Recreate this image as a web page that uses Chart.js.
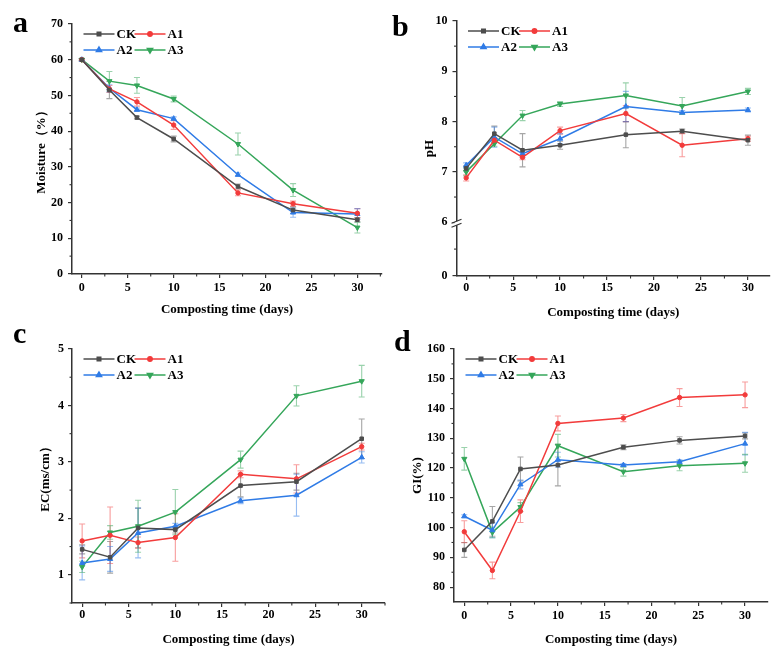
<!DOCTYPE html>
<html><head><meta charset="utf-8">
<script src="https://cdn.jsdelivr.net/npm/chart.js@4/dist/chart.umd.min.js"></script>
<style>
body{margin:0;background:#fff;width:775px;height:655px;position:relative;overflow:hidden}
.p{position:absolute}
.lt{position:absolute;font:bold 30px "Liberation Serif";line-height:30px;color:#000}
</style></head><body>
<canvas id="ca" class="p" style="left:0;top:0" width="390" height="320"></canvas>
<canvas id="cb" class="p" style="left:385px;top:0" width="390" height="320"></canvas>
<canvas id="cc" class="p" style="left:0;top:320px" width="390" height="335"></canvas>
<canvas id="cd" class="p" style="left:385px;top:320px" width="390" height="335"></canvas>
<div class="lt" style="left:13px;top:7px">a</div>
<div class="lt" style="left:392px;top:11px">b</div>
<div class="lt" style="left:13px;top:318px">c</div>
<div class="lt" style="left:394px;top:326px">d</div>
<script>
// ---- data ----
const days = [0, 3, 6, 10, 17, 23, 30];
const seriesNames = ['CK', 'A1', 'A2', 'A3'];
const xTicks = [0, 5, 10, 15, 20, 25, 30];

const moistureCK = [60, 51.5, 43.8, 37.8, 24.5, 17.9, 15.2];
const moistureA1 = [60, 51.8, 48.2, 41.7, 22.7, 19.7, 17.0];
const moistureA2 = [60, 52.0, 46.0, 43.5, 27.8, 17.2, 16.8];
const moistureA3 = [60, 54.0, 52.8, 49.0, 36.4, 23.5, 13.0];
const moistureErrCK = [0.3, 2.4, 0.4, 0.8, 0.7, 0.9, 0.6];
const moistureErrA1 = [0.3, 1.0, 1.2, 1.2, 0.8, 0.7, 1.3];
const moistureErrA2 = [0.3, 1.0, 0.5, 0.5, 0.5, 1.3, 1.5];
const moistureErrA3 = [0.3, 2.7, 2.2, 0.8, 3.1, 1.8, 1.5];
const moistureTicks = [0, 10, 20, 30, 40, 50, 60, 70];

const phCK = [7.07, 7.76, 7.43, 7.53, 7.74, 7.81, 7.63];
const phA1 = [6.88, 7.63, 7.29, 7.82, 8.16, 7.53, 7.66];
const phA2 = [7.13, 7.69, 7.36, 7.66, 8.30, 8.18, 8.23];
const phA3 = [7.00, 7.56, 8.12, 8.35, 8.52, 8.31, 8.60];
const phErrCK = [0.05, 0.15, 0.33, 0.08, 0.26, 0.04, 0.10];
const phErrA1 = [0.06, 0.05, 0.05, 0.07, 0.16, 0.23, 0.05];
const phErrA2 = [0.05, 0.20, 0.08, 0.10, 0.30, 0.04, 0.04];
const phErrA3 = [0.08, 0.05, 0.10, 0.05, 0.25, 0.17, 0.06];
const phTicks = [0, 6, 7, 8, 9, 10];

const ecCK = [1.45, 1.31, 1.83, 1.80, 2.58, 2.65, 3.41];
const ecA1 = [1.60, 1.70, 1.57, 1.66, 2.78, 2.70, 3.27];
const ecA2 = [1.21, 1.28, 1.74, 1.86, 2.31, 2.41, 3.08];
const ecA3 = [1.14, 1.75, 1.86, 2.11, 3.04, 4.17, 4.43];
const ecErrCK = [0.08, 0.28, 0.35, 0.06, 0.20, 0.15, 0.35];
const ecErrA1 = [0.30, 0.50, 0.10, 0.42, 0.06, 0.25, 0.06];
const ecErrA2 = [0.30, 0.22, 0.44, 0.05, 0.05, 0.37, 0.10];
const ecErrA3 = [0.10, 0.12, 0.46, 0.40, 0.15, 0.18, 0.28];
const ecTicks = [1, 2, 3, 4, 5];

const giCK = [92.5, 102.1, 119.7, 121.0, 127.0, 129.3, 130.8];
const giA1 = [98.6, 85.6, 105.5, 135.0, 136.8, 143.7, 144.6];
const giA2 = [103.8, 99.1, 114.5, 122.8, 121.0, 122.1, 128.2];
const giA3 = [123.1, 98.4, 106.9, 127.5, 118.8, 120.8, 121.6];
const giErrCK = [2.5, 5.0, 4.0, 7.0, 0.8, 1.2, 1.0];
const giErrA1 = [3.7, 2.8, 3.8, 2.5, 1.2, 3.0, 4.3];
const giErrA2 = [0.5, 2.5, 1.5, 2.5, 0.5, 0.7, 3.8];
const giErrA3 = [3.8, 1.8, 1.5, 3.8, 1.5, 1.7, 3.0];
const giTicks = [80, 90, 100, 110, 120, 130, 140, 150, 160];

// ---- styles ----
const colors = ['#4d4d4d', '#f23b3b', '#2f7be6', '#35a65a'];
const errColors = ['rgba(77,77,77,0.5)', 'rgba(242,59,59,0.5)', 'rgba(47,123,230,0.5)', 'rgba(53,166,90,0.5)'];
const pStyles = ['rect', 'circle', 'triangle', 'triangle'];
const pRot = [0, 0, 0, 180];
const pRad = [2.5, 2.2, 3, 3];
const AX = '#333';
const FONT = 'Liberation Serif';

// pH broken axis: 0..6 compressed
const K = 1.07;
const phMap = v => v >= 6 ? (v - 6) + K : v / 6 * K;

function makeSets(vals, errs, map) {
  map = map || (v => v);
  return vals.map((arr, s) => ({
    label: seriesNames[s],
    data: days.map((d, i) => ({x: d, y: map(arr[i])})),
    errLo: arr.map((v, i) => map(v - errs[s][i])),
    errHi: arr.map((v, i) => map(v + errs[s][i])),
    borderColor: colors[s], backgroundColor: colors[s],
    borderWidth: 1.5, pointStyle: pStyles[s], pointRotation: pRot[s],
    pointRadius: pRad[s], pointBorderWidth: 1, tension: 0,
    errColor: errColors[s], clip: false
  }));
}

const errPlugin = {
  id: 'err',
  beforeDatasetsDraw(chart) {
    const ctx = chart.ctx, x = chart.scales.x, y = chart.scales.y;
    chart.data.datasets.forEach(ds => {
      ctx.save(); ctx.strokeStyle = ds.errColor; ctx.lineWidth = 1.1;
      ds.data.forEach((p, i) => {
        const px = x.getPixelForValue(p.x);
        const y1 = y.getPixelForValue(ds.errLo[i]), y2 = y.getPixelForValue(ds.errHi[i]);
        ctx.beginPath();
        ctx.moveTo(px, y1); ctx.lineTo(px, y2);
        ctx.moveTo(px - 3, y1); ctx.lineTo(px + 3, y1);
        ctx.moveTo(px - 3, y2); ctx.lineTo(px + 3, y2);
        ctx.stroke();
      });
      ctx.restore();
    });
  },
  afterDraw(chart) {
    const ctx = chart.ctx, x = chart.scales.x, y = chart.scales.y;
    const o = chart.options.plugins.extra;
    ctx.save(); ctx.strokeStyle = AX; ctx.lineWidth = 1.1;
    // minor ticks
    o.xMinor.forEach(v => {
      if (v > x.max) return;
      const px = x.getPixelForValue(v);
      ctx.beginPath(); ctx.moveTo(px, y.bottom); ctx.lineTo(px, y.bottom + 2.5); ctx.stroke();
    });
    o.yMinor.forEach(v => {
      const py = y.getPixelForValue(v);
      ctx.beginPath(); ctx.moveTo(x.left, py); ctx.lineTo(x.left - 2.5, py); ctx.stroke();
    });
    // axis break
    if (o.breakAt !== undefined) {
      const py = y.getPixelForValue(o.breakAt);
      const ax = x.left;
      ctx.fillStyle = '#fff';
      ctx.fillRect(ax - 2, py - 1, 4, 4);
      ctx.lineWidth = 1.2;
      ctx.beginPath();
      ctx.moveTo(ax - 5, py + 1); ctx.lineTo(ax + 5, py - 3);
      ctx.moveTo(ax - 5, py + 5); ctx.lineTo(ax + 5, py + 1);
      ctx.stroke();
    }
    ctx.restore();
    // legend
    const L = x.left + 11.5, T = y.top;
    const pos = [[L, T + 10], [L + 51, T + 10], [L, T + 26], [L + 51, T + 26]];
    ctx.save();
    ctx.font = 'bold 13px "' + FONT + '"';
    ctx.textBaseline = 'middle'; ctx.fillStyle = '#000';
    chart.data.datasets.forEach((ds, s) => {
      const [lx, ly] = pos[s];
      ctx.strokeStyle = ds.borderColor; ctx.lineWidth = 1.5;
      ctx.beginPath(); ctx.moveTo(lx, ly); ctx.lineTo(lx + 31, ly); ctx.stroke();
      ctx.fillStyle = ds.backgroundColor;
      Chart.helpers.drawPoint(ctx, {pointStyle: ds.pointStyle, rotation: ds.pointRotation, radius: ds.pointRadius, borderWidth: 1}, lx + 15.5, ly);
      ctx.fill();
      ctx.fillStyle = '#000';
      ctx.fillText(ds.label, lx + 33, ly + 0.5);
    });
    ctx.restore();
  }
};

function build(id, cfg) {
  const tf = {family: FONT, size: 12, weight: 'bold'};
  const ttl = {family: FONT, size: 13, weight: 'bold'};
  const gridCfg = {display: true, drawOnChartArea: false, drawTicks: true, tickLength: 4, color: AX, lineWidth: 1.2};
  new Chart(document.getElementById(id), {
    type: 'line',
    data: {datasets: cfg.sets},
    plugins: [errPlugin],
    options: {
      responsive: false, animation: false, events: [],
      layout: {padding: {left: 0, right: cfg.pr, top: cfg.pt, bottom: 0}},
      plugins: {legend: {display: false}, tooltip: {enabled: false},
        extra: {xMinor: [2.5, 7.5, 12.5, 17.5, 22.5, 27.5, 32.5], yMinor: cfg.yMinor, breakAt: cfg.breakAt}},
      scales: {
        x: {type: 'linear', min: cfg.xmin, max: cfg.xmax,
          afterBuildTicks: s => { s.ticks = xTicks.map(v => ({value: v})); },
          ticks: {font: tf, color: '#000', padding: cfg.xtp, maxRotation: 0, autoSkip: false},
          grid: gridCfg, border: {display: true, color: AX, width: 1.5},
          title: {display: true, text: 'Composting time (days)', font: ttl, color: '#000', padding: {top: 0, bottom: cfg.xtb}},
          afterFit: s => { s.height = cfg.xh; }
        },
        y: {type: 'linear', min: cfg.ymin, max: cfg.ymax,
          afterBuildTicks: s => { s.ticks = cfg.yTickVals.map(v => ({value: v})); },
          ticks: {font: tf, color: '#000', padding: cfg.ylp || 5, autoSkip: false, callback: cfg.yLabel || (v => v)},
          grid: gridCfg, border: {display: true, color: AX, width: 1.5},
          title: {display: true, text: cfg.ytitle, font: ttl, color: '#000', padding: {top: cfg.ytp, bottom: 0}},
          afterFit: s => { s.width = cfg.yw; }
        }
      }
    }
  });
}

build('ca', {
  sets: makeSets([moistureCK, moistureA1, moistureA2, moistureA3], [moistureErrCK, moistureErrA1, moistureErrA2, moistureErrA3]),
  pr: 8, pt: 24, xh: 46, yw: 72, xmin: -1.07, xmax: 32.68, xtp: 3, xtb: 3,
  ymin: 0, ymax: 70, yTickVals: moistureTicks, yMinor: [5, 15, 25, 35, 45, 55, 65],
  ytitle: 'Moisture（%）', ytp: 34
});
build('cb', {
  sets: makeSets([phCK, phA1, phA2, phA3], [phErrCK, phErrA1, phErrA2, phErrA3], phMap),
  pr: 2, pt: 21, xh: 44, yw: 71.5, xmin: -1.03, xmax: 32.35, xtp: 1, xtb: 0,
  ymin: 0, ymax: phMap(10), yTickVals: phTicks.map(phMap), yMinor: [3, 6.5, 7.5, 8.5, 9.5].map(phMap),
  yLabel: v => { const i = phTicks.map(phMap).findIndex(t => Math.abs(t - v) < 1e-6); return i >= 0 ? String(phTicks[i]) : ''; },
  breakAt: phMap(6),
  ytitle: 'pH', ytp: 37
});
build('cc', {
  sets: makeSets([ecCK, ecA1, ecA2, ecA3], [ecErrCK, ecErrA1, ecErrA2, ecErrA3]),
  pr: 1, pt: 29, xh: 52, yw: 72, xmin: -1.09, xmax: 32.5, xtp: 1, xtb: 8,
  ymin: 0.5, ymax: 5, yTickVals: ecTicks, yMinor: [0.5, 1.5, 2.5, 3.5, 4.5],
  ytitle: 'EC(ms/cm）', ytp: 38, ylp: 4
});
build('cd', {
  sets: makeSets([giCK, giA1, giA2, giA3], [giErrCK, giErrA1, giErrA2, giErrA3]),
  pr: 7, pt: 29, xh: 53, yw: 69, xmin: -1.1, xmax: 32.45, xtp: 3, xtb: 8,
  ymin: 75, ymax: 160, yTickVals: giTicks, yMinor: [85, 95, 105, 115, 125, 135, 145, 155],
  ytitle: 'GI(%)', ytp: 25
});
</script>
</body></html>
